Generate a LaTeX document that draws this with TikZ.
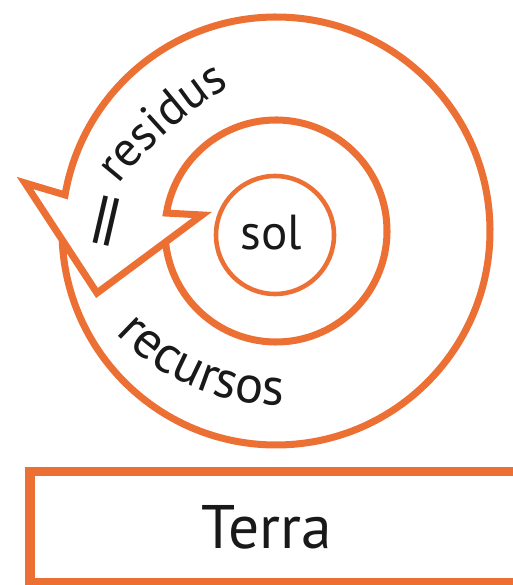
\documentclass[tikz,border=0pt]{standalone}
\usepackage{fontspec}
\setmainfont{PT Sans}
\newfontfamily\symfont{DejaVu Sans}
\usepackage{tikz}
\usetikzlibrary{calc}
\usetikzlibrary{decorations.text}
\usepackage{xcolor}
\definecolor{taronja}{RGB}{236,112,51}
\definecolor{tinta}{RGB}{25,25,25}

\begin{document}
\begin{tikzpicture}[x=0.02cm, y=0.02cm,
        ring/.style={draw=taronja, line width=4pt, line join=miter},
        word/.style={text=tinta, font=\fontsize{28}{30}\selectfont}]
            \useasboundingbox (0,0) rectangle (513,585);
            \clip (0,0) rectangle (513,585);
            \coordinate (c) at (276,354);
            \coordinate (rc) at (282,410);
            \coordinate (dc) at (454.6,132.4);
            \coordinate (obarb) at (25,402);
            \coordinate (tip) at (97,292);
            \coordinate (ibarb) at (202,370);
            \draw[ring] ($(c)+(-177.9:214)$) arc[start angle=-177.9, end angle=170.3, radius=214]
                        -- (obarb) -- (tip) -- (ibarb) -- ($(c)+(170.7:111)$)
                        arc[start angle=170.7, end angle=-173.9, radius=111];
            \draw[draw=taronja, line width=2.6pt] (275,350) circle[radius=59];
            \node[word, anchor=base] (sol) at (271.5,335) {sol};
            \node[word, font=\symfont\fontsize{25}{27}\selectfont, rotate=77] (eq) at (111,363) {\scalebox{1.75}[1.3]{=}};
            \path[decorate, decoration={text along path, text align=center,
                  text={|\color{tinta}\fontsize{28}{30}\selectfont|residus}}]
                  ($(dc)+(151.5:430)$) arc[start angle=151.5, end angle=111.5, radius=430];
            \path[decorate, decoration={text along path, text align=center,
                  text={|\color{tinta}\fontsize{30}{32}\selectfont|recursos}}]
                  ($(rc)+(207:230)$) arc[start angle=207, end angle=287, radius=230];
            \draw[draw=taronja, line width=5.4pt] (30,2.3) rectangle (540,113.5);
            \node[word, font=\fontsize{35}{38}\selectfont, anchor=base] (terra) at (266.7,36.7) {Terra};
        \end{tikzpicture}
\end{document}
